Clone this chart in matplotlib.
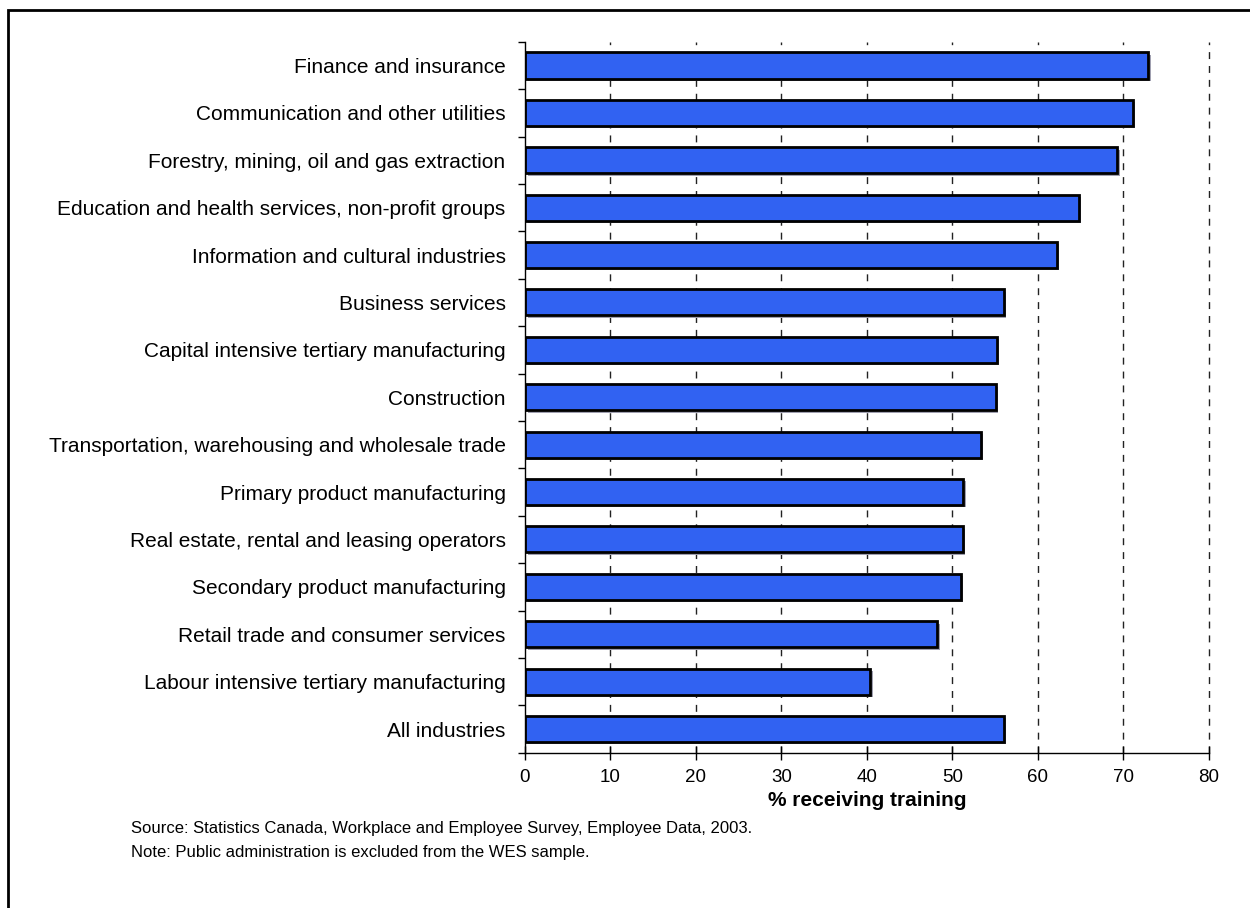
import numpy as np
import matplotlib.pyplot as plt
from matplotlib.patches import Rectangle

plt.rcParams['font.family'] = ['Liberation Sans', 'DejaVu Sans']

# Dados (de cima para baixo)
industrias = [
    "Finance and insurance",
    "Communication and other utilities",
    "Forestry, mining, oil and gas extraction",
    "Education and health services, non-profit groups",
    "Information and cultural industries",
    "Business services",
    "Capital intensive tertiary manufacturing",
    "Construction",
    "Transportation, warehousing and wholesale trade",
    "Primary product manufacturing",
    "Real estate, rental and leasing operators",
    "Secondary product manufacturing",
    "Retail trade and consumer services",
    "Labour intensive tertiary manufacturing",
    "All industries",
]
pct_treinamento = [72.9, 71.1, 69.3, 64.8, 62.2, 56.0, 55.2, 55.1, 53.3,
                   51.3, 51.2, 51.0, 48.2, 40.4, 56.0]
ticks_x = [0, 10, 20, 30, 40, 50, 60, 70, 80]

fig = plt.figure(figsize=(12.5, 9.08), dpi=100)
ax = fig.add_axes([0.42, 0.171, 0.547, 0.783])

n = len(industrias)
pos = np.arange(n)[::-1]

# grade tracejada atrás das barras
for t in ticks_x[1:]:
    ax.axvline(t, color='#222222', lw=1.0, ls=(0, (5, 5)), zorder=0, clip_on=False)

# sombra leve
ax.barh(pos - 0.05, pct_treinamento, left=0.3, height=0.55,
        color='#a0a0b0', edgecolor='none', zorder=1)
ax.barh(pos, pct_treinamento, height=0.55, color='#3162F2',
        edgecolor='black', linewidth=2, zorder=2)

ax.set_xlim(0, 80)
ax.set_ylim(-0.5, n - 0.5)
ax.set_xticks(ticks_x)
ax.set_xticklabels([str(t) for t in ticks_x], fontsize=13.5)
ax.tick_params(axis='x', direction='inout', length=10, width=1, pad=7)

ax.set_yticks(pos)
ax.set_yticklabels(industrias, fontsize=15)
ax.tick_params(axis='y', which='major', length=0, pad=14)
ax.set_yticks(np.arange(-0.5, n, 1), minor=True)
ax.tick_params(axis='y', which='minor', direction='out', length=5, width=1)

for s in ['top', 'right']:
    ax.spines[s].set_visible(False)
ax.spines['left'].set_linewidth(1)
ax.spines['bottom'].set_linewidth(1)

ax.set_xlabel("% receiving training", fontsize=15, fontweight='bold', labelpad=3)

fig.text(131 / 1250, 1 - 829 / 908, "Source: Statistics Canada, Workplace and Employee Survey, Employee Data, 2003.",
         fontsize=12, va='center', ha='left')
fig.text(131 / 1250, 1 - 852 / 908, "Note: Public administration is excluded from the WES sample.",
         fontsize=12, va='center', ha='left')

# moldura
fig.patches.append(Rectangle((8 / 1250, -0.05), 1.1, 1 - 10 / 908 + 0.05,
                             transform=fig.transFigure, fill=False,
                             edgecolor='black', linewidth=2))

fig.savefig("out.png", dpi=100)
